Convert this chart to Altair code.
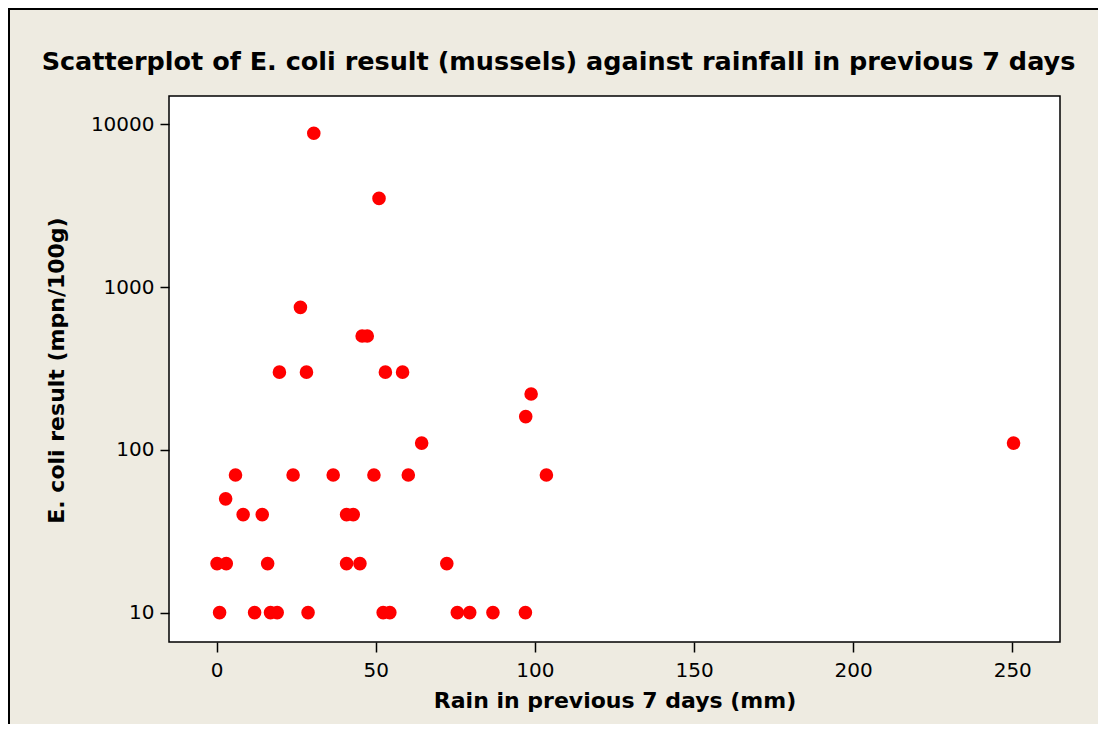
import altair as alt
import pandas as pd

# Rain in previous 7 days (mm)
rain = [30.5, 51.0, 26.3, 45.7, 47.3, 19.7, 28.2, 53.0, 58.4, 64.4,
        5.9, 24.0, 36.6, 49.4, 60.2, 103.6, 2.8, 8.3, 14.3, 40.8,
        42.9, 0.1, 3.0, 16.0, 40.8, 45.0, 72.3, 0.9, 11.9, 16.9,
        19.0, 28.7, 52.3, 54.4, 75.6, 79.5, 86.8, 97.0, 97.1, 98.8,
        250.4]
# E. coli result (mpn/100g)
ecoli = [8800, 3500, 750, 500, 500, 300, 300, 300, 300, 110,
         70, 70, 70, 70, 70, 70, 50, 40, 40, 40,
         40, 20, 20, 20, 20, 20, 20, 10, 10, 10,
         10, 10, 10, 10, 10, 10, 10, 10, 160, 220,
         110]

x_ticks = [0, 50, 100, 150, 200, 250]
y_ticks = [10, 100, 1000, 10000]

df = pd.DataFrame({"rain": rain, "ecoli": ecoli})
one = pd.DataFrame({"a": [0]})

W, H = 891, 546
PL, PT = 161, 88
BG = "#EEEBE1"

points = alt.Chart(df).mark_circle(size=185, color="#FF0000", opacity=1).encode(
    x=alt.X("rain:Q",
            scale=alt.Scale(domain=[-15, 265], nice=False, zero=False),
            axis=alt.Axis(values=x_ticks, title="Rain in previous 7 days (mm)",
                          titleY=65, titleBaseline="alphabetic")),
    y=alt.Y("ecoli:Q",
            scale=alt.Scale(type="log", domain=[6.6, 14900], nice=False),
            axis=alt.Axis(values=y_ticks, format="d",
                          title="E. coli result  (mpn/100g)",
                          titleX=-106, titleY=H / 2 + 1, titleAngle=-90,
                          titleAlign="center", titleBaseline="alphabetic")),
)

border_left = alt.Chart(one).mark_rule(color="black", strokeWidth=2).encode(
    x=alt.value(-PL + 1), y=alt.value(-PT), y2=alt.value(H + 90))
border_top = alt.Chart(one).mark_rule(color="black", strokeWidth=2).encode(
    x=alt.value(-PL), x2=alt.value(W + 40), y=alt.value(-PT + 1))

chart = alt.layer(border_left, border_top, points).properties(
    width=W, height=H,
    autosize=alt.AutoSizeParams(type="none"),
    padding={"left": PL, "top": PT, "right": 38, "bottom": 82},
    background=BG,
    title=alt.TitleParams(
        text="Scatterplot of E. coli result (mussels) against rainfall in previous 7 days",
        font="DejaVu Sans", fontSize=25.5, fontWeight="bold", color="black",
        anchor="middle", frame="group", offset=0, baseline="alphabetic",
        dx=-56, dy=88),
).configure_view(
    fill="white", stroke="black", strokeWidth=1.5,
).configure_axis(
    domain=False,
    ticks=True, tickColor="black", tickWidth=1.5,
    labelFont="DejaVu Sans", labelFontSize=20, labelColor="black",
    titleFont="DejaVu Sans", titleFontSize=22, titleFontWeight="bold",
    titleColor="black", grid=False,
).configure_axisX(
    tickSize=10, labelPadding=8,
).configure_axisY(
    tickSize=9, labelPadding=6,
)

chart.save("out.html", embed_options={"renderer": "svg", "actions": False})
